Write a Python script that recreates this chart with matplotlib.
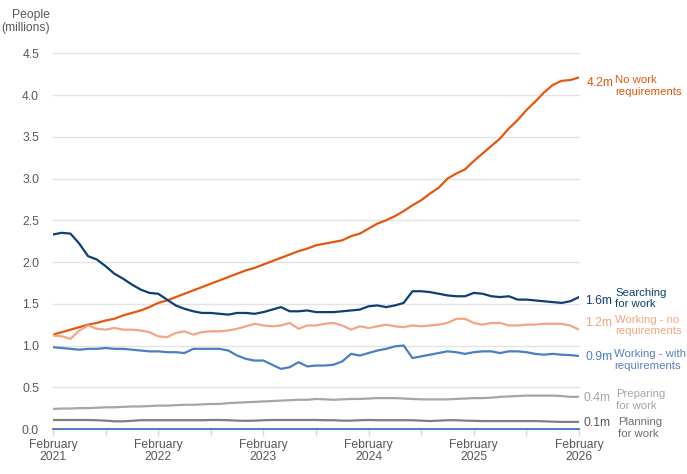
import matplotlib
matplotlib.use("Agg")
import matplotlib.pyplot as plt
import numpy as np
import pandas as pd

plt.rcParams['font.family'] = ['Liberation Sans', 'DejaVu Sans']

# ---- data (millions of people, monthly Feb 2021 .. Feb 2026) ----
months = pd.date_range("2021-02-01", "2026-02-01", freq="MS")

no_work_req = [1.13, 1.16, 1.19, 1.22, 1.25, 1.27, 1.30, 1.32, 1.36, 1.39,
               1.42, 1.46, 1.51, 1.54, 1.58, 1.62, 1.66, 1.70, 1.74, 1.78,
               1.82, 1.86, 1.90, 1.93, 1.97, 2.01, 2.05, 2.09, 2.13, 2.16,
               2.20, 2.22, 2.24, 2.26, 2.31, 2.34, 2.40, 2.46, 2.50, 2.55,
               2.61, 2.68, 2.74, 2.82, 2.89, 3.00, 3.06, 3.11, 3.21, 3.30,
               3.39, 3.48, 3.60, 3.70, 3.82, 3.92, 4.03, 4.12, 4.17, 4.18,
               4.21]

searching = [2.33, 2.35, 2.34, 2.22, 2.07, 2.03, 1.95, 1.86, 1.80, 1.73,
             1.67, 1.63, 1.62, 1.55, 1.48, 1.44, 1.41, 1.39, 1.39, 1.38,
             1.37, 1.39, 1.39, 1.38, 1.40, 1.43, 1.46, 1.41, 1.41, 1.42,
             1.40, 1.40, 1.40, 1.41, 1.42, 1.43, 1.47, 1.48, 1.46, 1.48,
             1.51, 1.65, 1.65, 1.64, 1.62, 1.60, 1.59, 1.59, 1.63, 1.62,
             1.59, 1.58, 1.59, 1.55, 1.55, 1.54, 1.53, 1.52, 1.51, 1.53,
             1.58]

working_no_req = [1.12, 1.11, 1.08, 1.18, 1.24, 1.20, 1.19, 1.21, 1.19, 1.19,
                  1.18, 1.16, 1.11, 1.10, 1.15, 1.17, 1.13, 1.16, 1.17, 1.17,
                  1.18, 1.20, 1.23, 1.26, 1.24, 1.23, 1.24, 1.27, 1.20, 1.24,
                  1.24, 1.26, 1.27, 1.24, 1.19, 1.23, 1.21, 1.23, 1.25, 1.23,
                  1.22, 1.24, 1.23, 1.24, 1.25, 1.27, 1.32, 1.32, 1.27, 1.25,
                  1.27, 1.27, 1.24, 1.24, 1.25, 1.25, 1.26, 1.26, 1.26, 1.24,
                  1.19]

working_with_req = [0.98, 0.97, 0.96, 0.95, 0.96, 0.96, 0.97, 0.96, 0.96, 0.95,
                    0.94, 0.93, 0.93, 0.92, 0.92, 0.91, 0.96, 0.96, 0.96, 0.96,
                    0.94, 0.88, 0.84, 0.82, 0.82, 0.77, 0.72, 0.74, 0.80, 0.75,
                    0.76, 0.76, 0.77, 0.81, 0.90, 0.88, 0.91, 0.94, 0.96, 0.99,
                    1.00, 0.85, 0.87, 0.89, 0.91, 0.93, 0.92, 0.90, 0.92, 0.93,
                    0.93, 0.91, 0.93, 0.93, 0.92, 0.90, 0.89, 0.90, 0.89, 0.885,
                    0.875]

preparing = [0.24, 0.245, 0.245, 0.25, 0.25, 0.255, 0.26, 0.26, 0.265, 0.27,
             0.27, 0.275, 0.28, 0.28, 0.285, 0.29, 0.29, 0.295, 0.30, 0.30,
             0.31, 0.315, 0.32, 0.325, 0.33, 0.335, 0.34, 0.345, 0.35, 0.35,
             0.36, 0.355, 0.35, 0.355, 0.36, 0.36, 0.365, 0.37, 0.37, 0.37,
             0.365, 0.36, 0.355, 0.355, 0.355, 0.355, 0.36, 0.365, 0.37, 0.37,
             0.375, 0.385, 0.39, 0.395, 0.40, 0.40, 0.40, 0.40, 0.395, 0.385,
             0.385]

planning = [0.108, 0.108, 0.108, 0.108, 0.108, 0.105, 0.100, 0.092, 0.092, 0.098,
            0.105, 0.105, 0.105, 0.105, 0.105, 0.105, 0.105, 0.105, 0.108, 0.108,
            0.105, 0.100, 0.098, 0.100, 0.105, 0.108, 0.108, 0.108, 0.108, 0.108,
            0.108, 0.105, 0.105, 0.100, 0.100, 0.105, 0.108, 0.105, 0.105, 0.105,
            0.105, 0.105, 0.100, 0.095, 0.100, 0.105, 0.105, 0.100, 0.098, 0.095,
            0.095, 0.095, 0.095, 0.095, 0.095, 0.095, 0.092, 0.088, 0.085, 0.085,
            0.085]

series_names = ["No work\nrequirements", "Searching\nfor work", "Working - no\nrequirements",
                "Working - with\nrequirements", "Preparing\nfor work", "Planning\nfor work"]
value_labels = ["4.2m", "1.6m", "1.2m", "0.9m", "0.4m", "0.1m"]
y_ticks = [0.0, 0.5, 1.0, 1.5, 2.0, 2.5, 3.0, 3.5, 4.0, 4.5]
x_tick_labels = ["February\n2021", "February\n2022", "February\n2023",
                 "February\n2024", "February\n2025", "February\n2026"]

# ---- style ----
colors = ["#E5570F", "#0E3F74", "#F4A582", "#4A7EC2", "#A6A6A6", "#7F7F7F"]
name_colors = ["#E5570F", "#0E3F74", "#F4A582", "#5A80C0", "#A6A6A6", "#6E6E6E"]
txt = "#595959"
fs = 8.7
fs_name = 8.2

fig = plt.figure(figsize=(6.87, 4.74), dpi=100)
ax = fig.add_axes([53/687, 1-429/474, (579-53)/687, (429-53.3)/474])

x = np.arange(len(months))
all_series = [no_work_req, searching, working_no_req, working_with_req, preparing, planning]
for s, c in zip(all_series, colors):
    ax.plot(x, s, color=c, lw=1.6, solid_joinstyle='round', zorder=3)

ax.set_xlim(0, len(months)-1)
ax.set_ylim(0, 4.5)
ax.set_yticks(y_ticks)
ax.set_yticklabels([f"{v:.1f}" for v in y_ticks], fontsize=fs, color=txt)
ax.tick_params(axis='y', length=0, pad=10)
ax.grid(axis='y', color="#E3E3E3", lw=1.0, zorder=0)
for g in ax.get_ygridlines():
    g.set_clip_on(False)

# x ticks: every 6 months, labels on February
xt = np.arange(0, len(months), 6)
ax.set_xticks(xt)
lbls = []
for i in xt:
    lbls.append(x_tick_labels[i // 12] if i % 12 == 0 else "")
ax.set_xticklabels(lbls, fontsize=fs, color=txt, linespacing=1.05)
ax.tick_params(axis='x', length=5, color="#D9D9D9", width=1, pad=2)

for sp in ["top", "right", "left"]:
    ax.spines[sp].set_visible(False)
ax.spines["bottom"].set_color("#4472C4")
ax.spines["bottom"].set_linewidth(1.3)
ax.spines["bottom"].set_zorder(4)

fig.text(50/687, 1-9/474, "People\n(millions)", ha='right', va='top',
         fontsize=fs, color=txt, linespacing=1.15)

val_y = [82.5, 301, 323.5, 357, 398, 423.5]
val_x = [587, 585, 585, 585, 583, 583]
name_y = [86, 298.5, 325.5, 360, 400, 428]
name_x = [615, 615, 615, 614, 616, 618]
for i in range(6):
    fig.text(val_x[i]/687, 1-val_y[i]/474, value_labels[i], ha='left', va='center',
             fontsize=fs, color=colors[i] if i != 5 else txt)
    fig.text(name_x[i]/687, 1-name_y[i]/474, series_names[i], ha='left', va='center',
             fontsize=fs_name, color=name_colors[i], linespacing=1.15)

fig.savefig("out.png", dpi=100)
